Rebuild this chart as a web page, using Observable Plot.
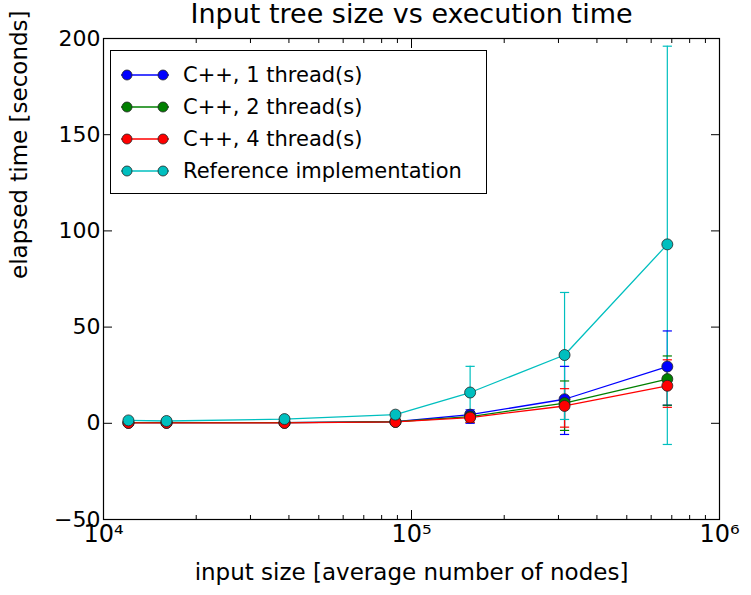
<!DOCTYPE html>
<html><head><meta charset="utf-8">
<script src="https://cdn.jsdelivr.net/npm/d3@7"></script>
<script src="https://cdn.jsdelivr.net/npm/@observablehq/plot@0.6"></script>
<style>
body{margin:0;background:#fff;font-family:"DejaVu Sans",sans-serif}
#wrap{position:relative;width:751px;height:595px}
#legend{position:absolute;left:110px;top:50px;width:377px;height:144px;border:1.5px solid #000;background:#fff;font-size:21px;box-sizing:border-box;padding:8px 0 0 8px}
#legend div{height:32px;display:flex;align-items:center}
#legend svg{margin-right:12px}
</style></head><body>
<div id="wrap"><div id="chart"></div><div id="legend"></div></div>
<script>
const sizes = [12050, 16020, 38700, 88700, 155000, 314000, 677000]
const seriesNames = ["C++, 1 thread(s)", "C++, 2 thread(s)", "C++, 4 thread(s)", "Reference implementation"]
const colors = ["#0000ff", "#008000", "#ff0000", "#00bfbf"]
const means = [
  [0.3, 0.3, 0.3, 0.8, 4.5, 12.5, 29.5],
  [0.3, 0.3, 0.3, 0.8, 3.5, 10.5, 23],
  [0.2, 0.2, 0.2, 0.7, 3, 9, 19.5],
  [1.5, 1.2, 2.2, 4.5, 16, 35.5, 93]
]
const lows = [
  [0.2, 0.2, 0.2, 0.6, 0, -5.8, 9.4],
  [0.2, 0.2, 0.2, 0.6, 0.5, -3.7, 9.4],
  [0.1, 0.1, 0.1, 0.5, 0.5, -2, 8.3],
  [1.2, 1, 1.8, 3.8, 2, 2, -11]
]
const highs = [
  [0.4, 0.4, 0.4, 1, 7, 29.6, 48],
  [0.4, 0.4, 0.4, 1, 6, 22, 35],
  [0.3, 0.3, 0.3, 0.9, 5, 18, 33],
  [1.8, 1.4, 2.6, 5.2, 29.6, 68, 196]
]
const yTicks = [-50, 0, 50, 100, 150, 200]
const xTicks = [1e4, 1e5, 1e6]

const rows = []
seriesNames.forEach((s, i) => sizes.forEach((x, j) =>
  rows.push({series: s, x, y: means[i][j], lo: lows[i][j], hi: highs[i][j]})))
const minor = []
for (const d of [1e4, 1e5]) for (let k = 2; k < 10; k++) minor.push(d * k)
const sup = {"4": "⁴", "5": "⁵", "6": "⁶"}
const blank = () => ""

const chart = Plot.plot({
  width: 751, height: 595,
  marginLeft: 103, marginRight: 32, marginTop: 38, marginBottom: 76,
  style: {fontFamily: "DejaVu Sans", fontSize: "22px", color: "#000", background: "#fff"},
  x: {type: "log", domain: [1e4, 1e6]},
  y: {domain: [-50, 200]},
  color: {domain: seriesNames, range: colors},
  marks: [
    Plot.frame({stroke: "#000", strokeWidth: 1.2}),
    Plot.axisX(xTicks, {tickSize: -9, tickFormat: d => "10" + sup[String(Math.round(Math.log10(d)))], fontSize: 24, tickPadding: 14, label: null}),
    Plot.axisX(xTicks, {anchor: "top", tickSize: -9, tickFormat: blank, label: null}),
    Plot.axisX(minor, {tickSize: -4, tickFormat: blank, label: null}),
    Plot.axisX(minor, {anchor: "top", tickSize: -4, tickFormat: blank, label: null}),
    Plot.axisY(yTicks, {tickSize: -9, fontSize: 22, tickPadding: 12, label: null}),
    Plot.axisY(yTicks, {anchor: "right", tickSize: -9, tickFormat: blank, label: null}),
    Plot.ruleX(rows, {x: "x", y1: "lo", y2: "hi", stroke: "series", strokeWidth: 1.2}),
    Plot.link(rows, {x1: d => d.x / 1.035, x2: d => d.x * 1.035, y1: "lo", y2: "lo", stroke: "series", strokeWidth: 1.2}),
    Plot.link(rows, {x1: d => d.x / 1.035, x2: d => d.x * 1.035, y1: "hi", y2: "hi", stroke: "series", strokeWidth: 1.2}),
    Plot.line(rows, {x: "x", y: "y", z: "series", stroke: "series", strokeWidth: 1.3}),
    Plot.dot(rows, {x: "x", y: "y", fill: "series", stroke: "#222", strokeWidth: 0.8, r: 5.5}),
    Plot.text(["Input tree size vs execution time"], {frameAnchor: "top", dy: -16, lineAnchor: "bottom", fontSize: 27, fill: "#000"}),
    Plot.text(["input size [average number of nodes]"], {frameAnchor: "bottom", dy: 60, fontSize: 23, fill: "#000"}),
    Plot.text(["elapsed time [seconds]"], {frameAnchor: "left", dx: -84, rotate: -90, fontSize: 23, fill: "#000"})
  ]
})
d3.select("#chart").append(() => chart)

const leg = d3.select("#legend")
seriesNames.forEach((s, i) => {
  const row = leg.append("div")
  const sv = row.append("svg").attr("width", 52).attr("height", 14)
  sv.append("line").attr("x1", 2).attr("x2", 50).attr("y1", 7).attr("y2", 7).attr("stroke", colors[i]).attr("stroke-width", 1.3)
  sv.append("circle").attr("cx", 8).attr("cy", 7).attr("r", 5).attr("fill", colors[i]).attr("stroke", "#222").attr("stroke-width", 0.8)
  sv.append("circle").attr("cx", 44).attr("cy", 7).attr("r", 5).attr("fill", colors[i]).attr("stroke", "#222").attr("stroke-width", 0.8)
  row.append("span").text(s)
})
</script></body></html>
